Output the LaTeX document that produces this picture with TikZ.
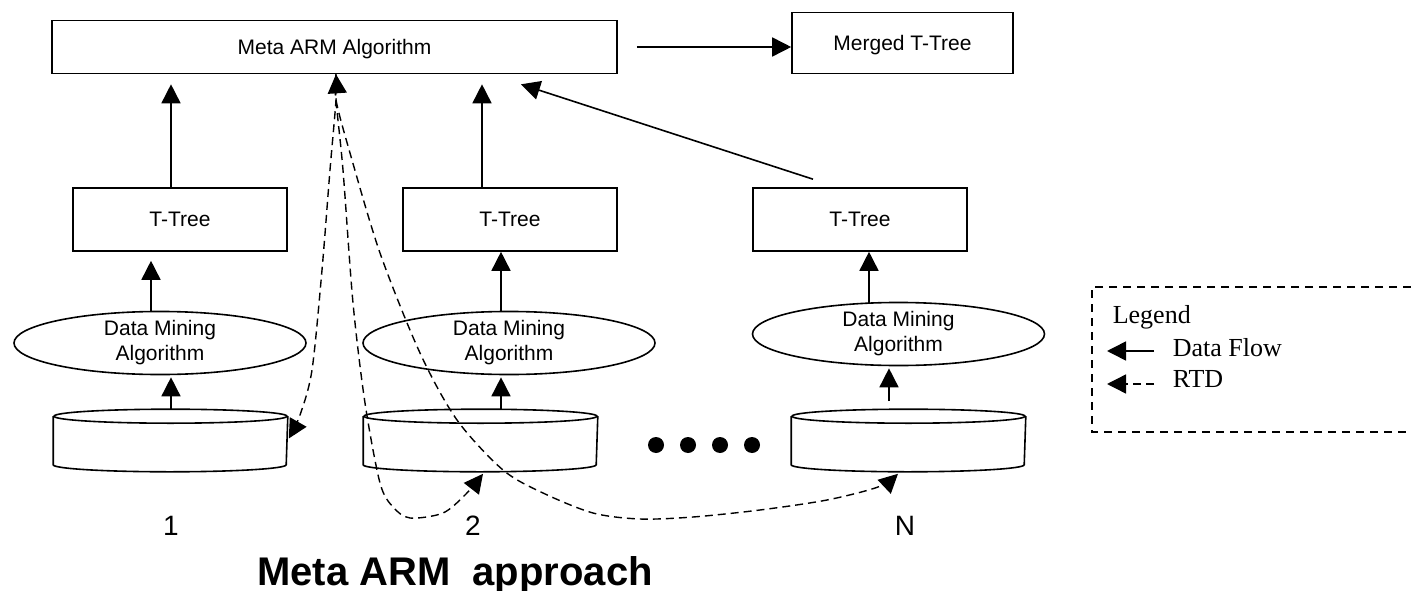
\documentclass[tikz,border=0pt]{standalone}
\usepackage{fontspec}
\setmainfont{Liberation Sans}
\newfontfamily\legfont{Liberation Serif}
\usetikzlibrary{arrows.meta,shapes.geometric}
\newcommand\mkcyl[3]{%
  \node[cylbox, minimum width=#3pt] (#1) at (#2,440.5) {};
  \draw ([yshift=-7pt]#1.north west) -- ([yshift=7pt]#1.south west)
        arc[start angle=180, end angle=360, x radius={#3*0.5pt}, y radius=7pt]
        -- ([yshift=-7pt]#1.north east);
  \draw ([yshift=-7pt]#1.north) ellipse[x radius={#3*0.5pt}, y radius=7pt];
}
\begin{document}
\begin{tikzpicture}[x=1pt,y=-1pt,line width=1.6pt,
  boxtext/.style={font=\fontsize{21}{25}\selectfont},
  box/.style={draw, rectangle, inner sep=0pt, text depth=0pt, boxtext},
  ttree/.style={box, minimum width=214pt, minimum height=63pt},
  ell/.style={draw, ellipse, inner sep=0pt, minimum width=292pt, minimum height=60pt, align=center, boxtext},
  cylbox/.style={rectangle, draw=none, inner sep=0pt, minimum height=61pt},
  flow/.style={-{Triangle[length=19pt,width=19pt]}},
  rtddash/.style={line width=1.4pt, dash pattern=on 8pt off 5pt},
  lbl/.style={font=\fontsize{28}{30}\selectfont, anchor=base},
  leg/.style={font=\legfont\fontsize{26}{30}\selectfont, anchor=base west, inner sep=0pt}]
\fill[white] (0,0) rectangle (1411,591);
\useasboundingbox (0,0) rectangle (1411,591);

% top row
\node[box, minimum width=565pt, minimum height=53pt] (meta) at (334.5,47) {Meta ARM Algorithm};
\node[box, minimum width=221pt, minimum height=61pt] (merged) at (902.5,43) {Merged T-Tree};

% T-Trees
\node[ttree] (tt1) at (180,219.5) {T-Tree};
\node[ttree] (tt2) at (510,219.5) {T-Tree};
\node[ttree] (tt3) at (860,219.5) {T-Tree};

% ellipses
\node[ell] (e1) at (160,343) {Data Mining\\Algorithm};
\node[ell] (e2) at (509,343) {Data Mining\\Algorithm};
\node[ell] (e3) at (898.5,334) {Data Mining\\Algorithm};

% cylinders
\mkcyl{c1}{170.5}{233}
\mkcyl{c2}{480.5}{233}
\mkcyl{c3}{908.5}{233}

% dots
\foreach \xx in {656,688,720,752} \fill (\xx,445) circle[radius=8pt];

% labels
\node[lbl] (l1) at (171,535) {1};
\node[lbl] (l2) at (473,535) {2};
\node[lbl] (lN) at (905,535) {N};
\node[font=\bfseries\fontsize{40}{44}\selectfont, anchor=base] (title) at (455,585) {Meta ARM\ \ approach};

% data flow arrows
\draw[flow] ([xshift=19pt]meta.east) -- (merged.west |- meta.east);
\draw[flow] ([xshift=-9pt]tt1.north) -- ([xshift=-9pt,yshift=-10pt]tt1.north |- meta.south);
\draw[flow] ([xshift=-28pt]tt2.north) -- ([xshift=-28pt,yshift=-10pt]tt2.north |- meta.south);
\draw[flow] ([xshift=-47pt,yshift=8pt]tt3.north) -- ([xshift=186.5pt,yshift=-10pt]meta.south);

\draw[flow] ([xshift=-9pt]e1.north) -- ([xshift=-9pt,yshift=-9pt]e1.north |- tt1.south);
\draw[flow] ([xshift=-8pt]e2.north) -- ([xshift=-8pt]e2.north |- tt2.south);
\draw[flow] ([xshift=-29.5pt,yshift=-1pt]e3.north) -- ([xshift=-29.5pt]e3.north |- tt3.south);

\draw[flow] ([xshift=0.5pt]c1.north) -- ([xshift=0.5pt,yshift=-2pt]c1.north |- e1.south);
\draw[flow] ([xshift=20.5pt]c2.north) -- ([xshift=20.5pt,yshift=-2pt]c2.north |- e2.south);
\draw[flow] ([xshift=-19.5pt,yshift=8pt]c3.north) -- ([xshift=-19.5pt,yshift=-2pt]c3.north |- e3.south);

% RTD curves
\coordinate (rt) at ([xshift=1.5pt]meta.south);
\coordinate (d1) at ([xshift=1pt,yshift=2pt]c1.east);
\coordinate (d2) at ([xshift=2.5pt,yshift=-2pt]c2.south);
\coordinate (d3) at ([xshift=-10.5pt,yshift=-2pt]c3.south);
\draw[rtddash, {Triangle[length=19pt,width=19pt]}-{Triangle[length=19pt,width=19pt]}]
  plot[smooth] coordinates {(rt) (336,100) (330,170) (322,270) (312,370) (300,415) (d1)};
\draw[rtddash, -{Triangle[length=19pt,width=19pt]}]
  plot[smooth] coordinates {(rt) (336,100) (343,170) (353,303) (365,403) (380,483) (393,507) (410,518) (443,513) (466,494) (d2)};
\draw[rtddash, -{Triangle[length=19pt,width=19pt]}]
  plot[smooth] coordinates {(rt) (336,100) (350,153) (380,253) (420,353) (457,420) (503,470) (543,493) (593,513) (640,519) (693,517) (760,510) (827,500) (878,487) (d3)};

% legend
\draw[line width=1.4pt, dash pattern=on 8pt off 6pt] (1411,287) -- (1092,287) -- (1092,432) -- (1411,432);
\node[leg] (lg) at (1112,323) {Legend};
\node[leg] (lgdf) at (1172,356) {Data Flow};
\node[leg] (lgrtd) at (1172,387) {RTD};
\draw[flow] ([xshift=-18pt,yshift=5pt]lgdf.base west) -- ([xshift=-65pt,yshift=5pt]lgdf.base west);
\draw[rtddash, -{Triangle[length=19pt,width=19pt]}] ([xshift=-18pt,yshift=3pt]lgrtd.base west) -- ([xshift=-65pt,yshift=3pt]lgrtd.base west);
\end{tikzpicture}
\end{document}
